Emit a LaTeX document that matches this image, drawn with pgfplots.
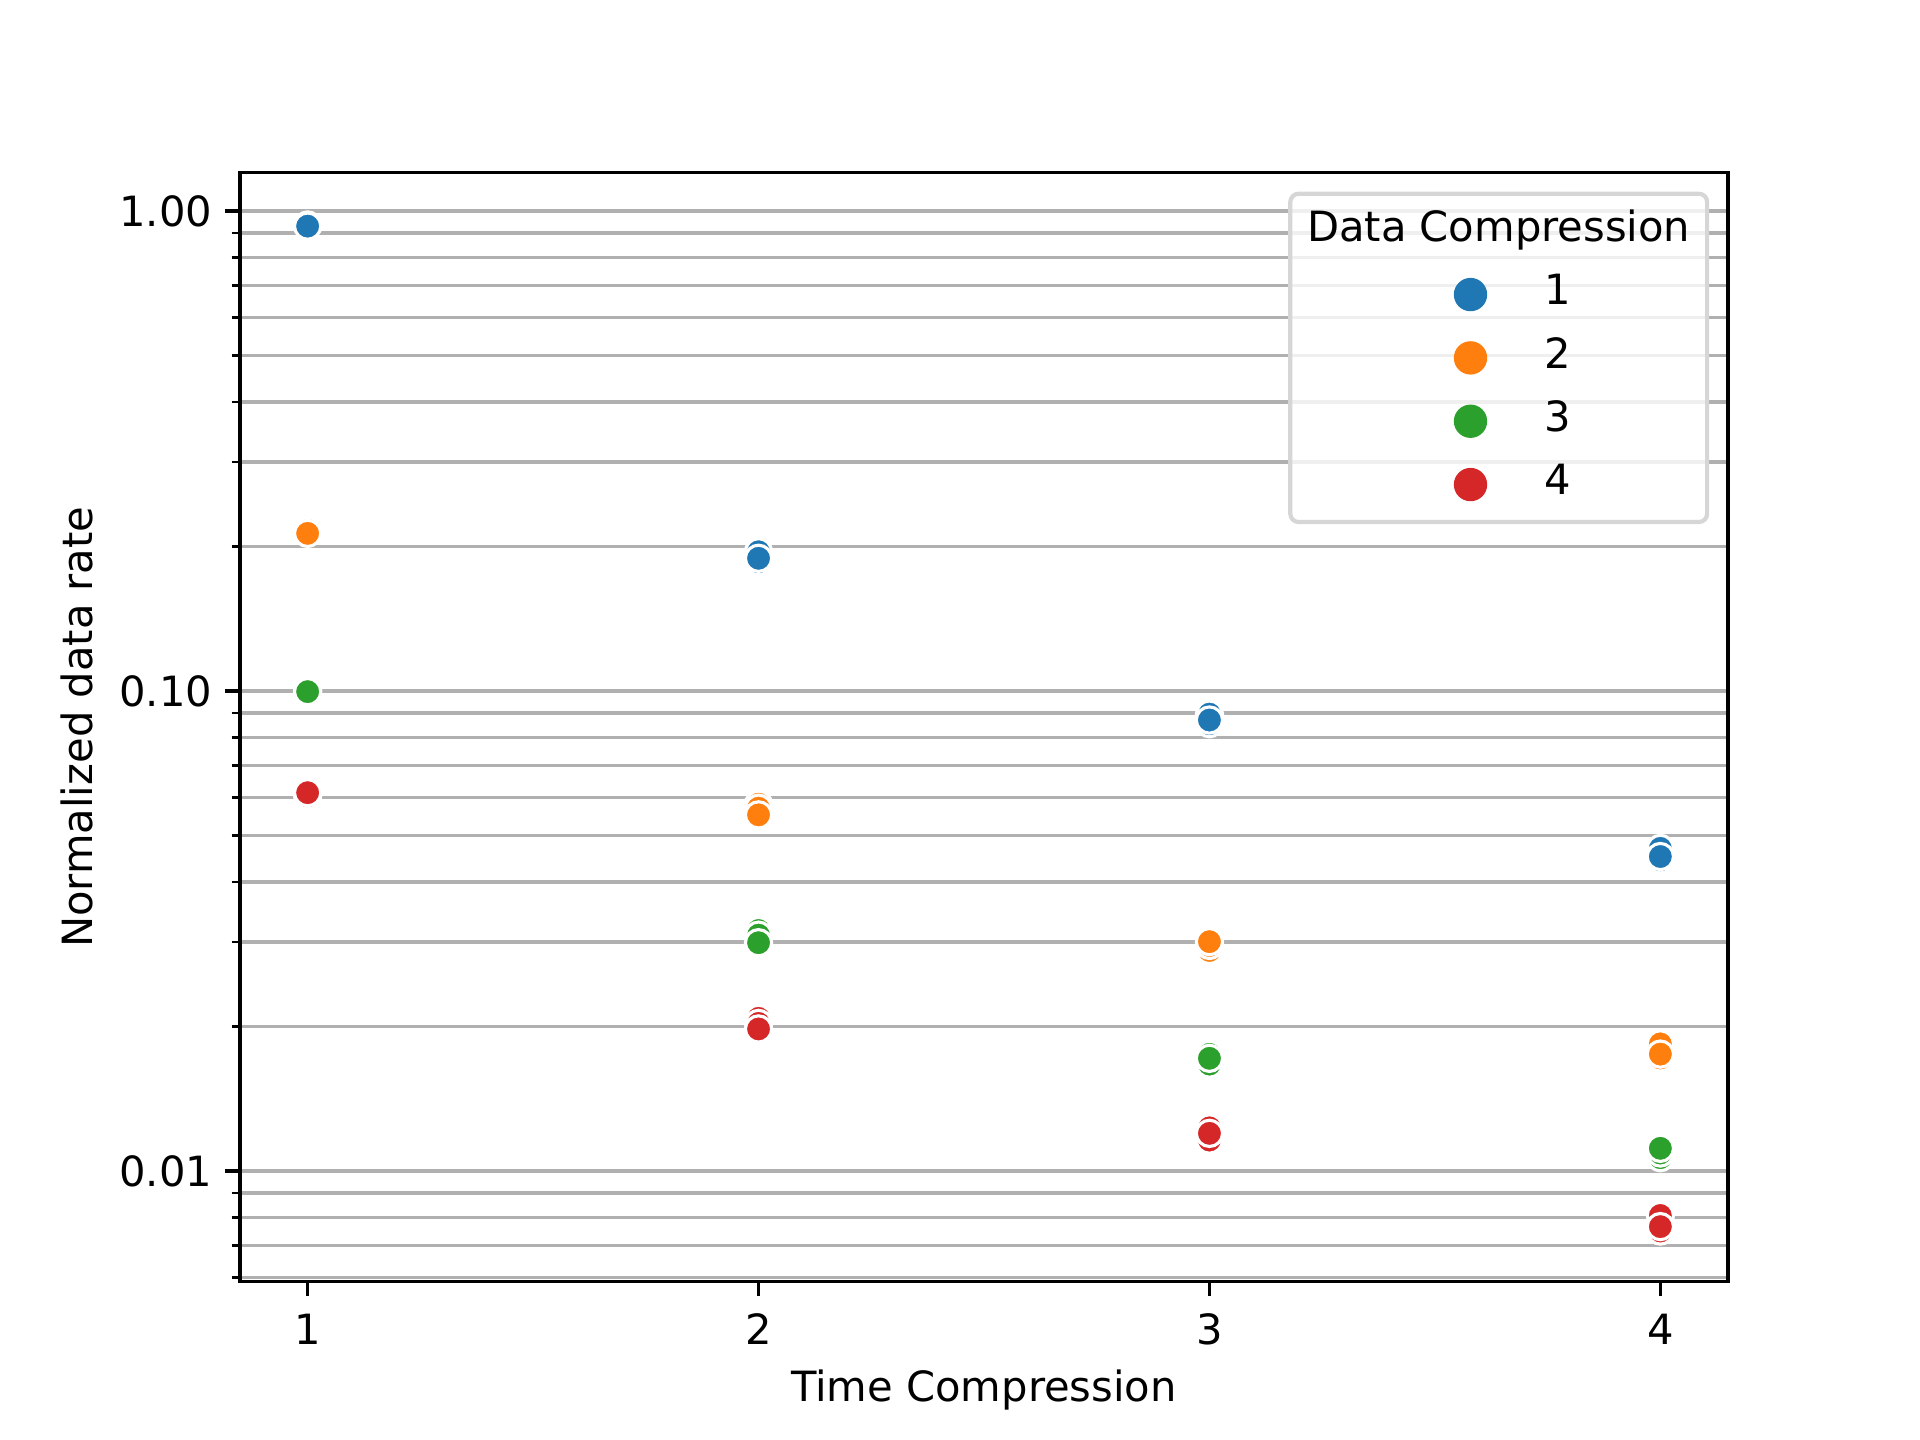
\documentclass[border=0pt]{standalone}
\usepackage{fontspec}
\setmainfont{DejaVu Sans}
\usepackage{pgfplots}
\pgfplotsset{compat=1.18}
\definecolor{c1}{HTML}{1F77B4}
\definecolor{c2}{HTML}{FF7F0E}
\definecolor{c3}{HTML}{2CA02C}
\definecolor{c4}{HTML}{D62728}
\definecolor{gridgray}{HTML}{B0B0B0}
\definecolor{legedge}{HTML}{D6D6D6}
\begin{document}
\begin{tikzpicture}
\useasboundingbox (-57.6pt,-38.016pt) rectangle (403.2pt,307.584pt);
\begin{axis}[
  at={(0,0)}, anchor=south west,
  scale only axis, width=357.12pt, height=266.112pt,
  xmin=0.85, xmax=4.15,
  ymode=log, ymin=0.005883, ymax=1.201,
  xtick={1,2,3,4}, xticklabels={1,2,3,4},
  ytick={0.01,0.1,1}, yticklabels={0.01,0.10,1.00},
  minor ytick={0.006,0.007,0.008,0.009,0.02,0.03,0.04,0.05,0.06,0.07,0.08,0.09,0.2,0.3,0.4,0.5,0.6,0.7,0.8,0.9},
  minor xtick={},
  xtick pos=bottom, ytick pos=left,
  tick align=outside,
  major tick length=3.5pt, minor tick length=2pt,
  every tick/.style={black, line width=0.8pt},
  minor tick style={line width=0.6pt},
  axis line style={black, line width=0.8pt},
  ymajorgrids, yminorgrids,
  major grid style={gridgray, line width=0.8pt},
  minor grid style={gridgray, line width=0.8pt},
  axis on top,
  yticklabel style={anchor=east, inner sep=0pt, xshift=-3.0pt},
  xticklabel style={anchor=north, inner sep=0pt, yshift=-4pt},
  xlabel={Time Compression}, ylabel={Normalized data rate},
  every axis x label/.style={at={(axis description cs:0.5,-0.1082)}, anchor=base},
  every axis y label/.style={at={(axis description cs:-0.0991,0.5)}, rotate=90, anchor=base},
  legend image code/.code={\draw[#1, overlay, fill opacity=1, draw opacity=1, mark size=3.5pt, mark options={draw=none, fill opacity=1}] plot coordinates {(39.2pt,0pt)};},
  legend style={at={(axis description cs:0.9874,0.9830)}, anchor=north east,
    draw=legedge, line width=1pt, rounded corners=2pt,
    fill=white, fill opacity=0.8, draw opacity=1, text opacity=1,
    inner xsep=4.05pt, inner ysep=4.0pt, row sep=5.2pt, column sep=0pt,
    nodes={inner sep=0pt, text height=7.5pt, text depth=2.5pt, anchor=west}},
  legend cell align=left,
]
\addlegendimage{empty legend}
\addlegendentry{Data Compression}

\addplot[only marks, mark=*, mark size=3.15pt, color=c1, mark options={draw=white, line width=0.75pt, fill=c1}]
coordinates {(1,0.935) (1,0.93) (2,0.195) (2,0.186) (2,0.189) (3,0.0895) (3,0.0855) (3,0.087) (4,0.047) (4,0.0445) (4,0.0452)};
\addlegendentry{\hspace*{57pt}1}

\addplot[only marks, mark=*, mark size=3.15pt, color=c2, mark options={draw=white, line width=0.75pt, fill=c2}]
coordinates {(1,0.216) (1,0.213) (2,0.0581) (2,0.057) (2,0.0552) (3,0.0288) (3,0.0295) (3,0.03005) (4,0.0184) (4,0.0172) (4,0.01752)};
\addlegendentry{\hspace*{57pt}2}

\addplot[only marks, mark=*, mark size=3.15pt, color=c3, mark options={draw=white, line width=0.75pt, fill=c3}]
coordinates {(1,0.101) (1,0.0997) (2,0.0317) (2,0.031) (2,0.0299) (3,0.0167) (3,0.0175) (3,0.01717) (4,0.01066) (4,0.0109) (4,0.01115)};
\addlegendentry{\hspace*{57pt}3}

\addplot[only marks, mark=*, mark size=3.15pt, color=c4, mark options={draw=white, line width=0.75pt, fill=c4}]
coordinates {(1,0.062) (1,0.0605) (1,0.0614) (2,0.0208) (2,0.0203) (2,0.01977) (3,0.0117) (3,0.0116) (3,0.0123) (3,0.01198) (4,0.00808) (4,0.0075) (4,0.00766)};
\addlegendentry{\hspace*{57pt}4}
\end{axis}
\end{tikzpicture}
\end{document}
